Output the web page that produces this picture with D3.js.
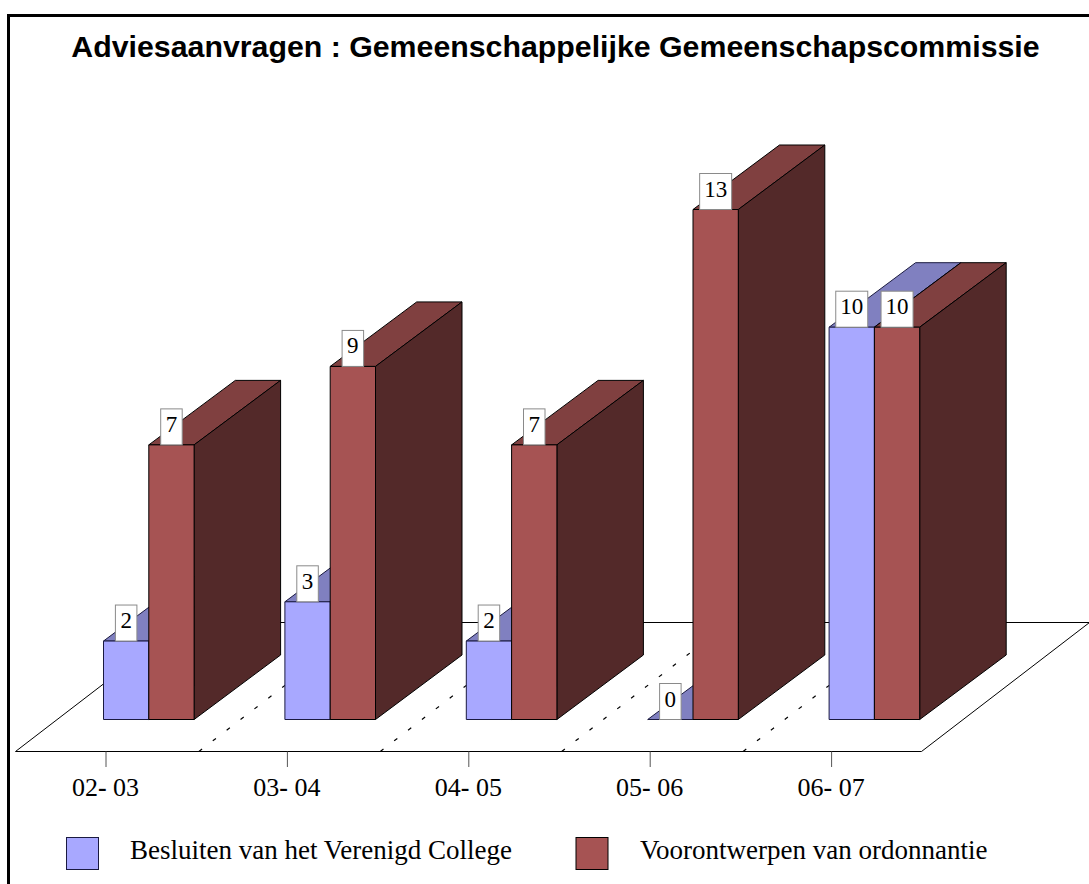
<!DOCTYPE html>
<html><head><meta charset="utf-8">
<script src="https://cdn.jsdelivr.net/npm/d3@7/dist/d3.min.js"></script>
<style>html,body{margin:0;padding:0;background:#fff}svg{display:block}</style>
</head><body><svg id="c" width="1089" height="884"></svg>
<script>
const titleText = "Adviesaanvragen : Gemeenschappelijke Gemeenschapscommissie";
const categories = ["02- 03","03- 04","04- 05","05- 06","06- 07"];
const seriesNames = ["Besluiten van het Verenigd College","Voorontwerpen van ordonnantie"];
const besluiten = [2,3,2,0,10];
const voorontwerpen = [7,9,7,13,10];
const frontColors = ["#a8a8ff","#a65353"];
const topColors = ["#8080c0","#804040"];
const sideColors = ["#535380","#532929"];

const svg = d3.select("#c");
const serif = "'Liberation Serif','Times New Roman',serif";
const sans = "'Liberation Sans',Arial,sans-serif";

// frame
svg.append("path").attr("d","M8.5,884V15.5H1089").attr("fill","none").attr("stroke","#000").attr("stroke-width",3);

// title
svg.append("text").attr("x",555.5).attr("y",56.5).attr("text-anchor","middle")
  .attr("font-family",sans).attr("font-weight","bold").attr("font-size",30.3).attr("fill","#000").text(titleText);

// scales
const x = d3.scaleBand().domain(categories).range([103.5,1010.5]);
const inner = d3.scaleBand().domain([0,1]).range([0,90.6]);
const y = d3.scaleLinear().domain([0,13]).range([719.5,209.5]);
const depthX = 86.5, depthY = -64.5;
const line = d3.line();

// floor
const g = svg.append("g");
const floorY = 751.5, backY = 622.5, floorL = 15.5, floorR = 921.5, shift = 168;
g.append("path").attr("d",line([[floorL,floorY],[floorL+shift,backY],[floorR+shift,backY],[floorR,floorY]])+"Z")
  .attr("fill","#fff").attr("stroke","#000").attr("stroke-width",1);

// category separators (dashed floor lines)
categories.forEach((c,i)=>{
  if(i===categories.length-1) return;
  const sx = x(c)+x.bandwidth()-86;
  g.append("path").attr("d",line([[sx,floorY],[sx+shift,backY]]))
   .attr("fill","none").attr("stroke","#000").attr("stroke-width",1.2).attr("stroke-dasharray","4 13.5");
});

// ticks + labels
categories.forEach(c=>{
  const tx = x(c)+2.5;
  g.append("line").attr("x1",tx).attr("x2",tx).attr("y1",floorY).attr("y2",767).attr("stroke","#555").attr("stroke-width",1);
  const parts = c.split("-");
  const t = g.append("text").attr("x",tx-.5).attr("y",796).attr("text-anchor","middle")
    .attr("font-family",serif).attr("font-size",26).attr("fill","#000");
  t.append("tspan").text(parts[0]);
  t.append("tspan").attr("font-weight","bold").text("-");
  t.append("tspan").text(parts[1]);
});

// bars
const series = [besluiten, voorontwerpen];
const labels = [];
categories.forEach((c,ci)=>{
  series.forEach((vals,si)=>{
    const v = vals[ci];
    const x0 = x(c)+inner(si), x1 = x0+inner.bandwidth(), yt = y(v), yb = y(0);
    const bar = svg.append("g").attr("stroke",si===0?"#1a1a40":"#000").attr("stroke-width",1).attr("stroke-linejoin","round");
    bar.append("path").attr("fill",topColors[si])
      .attr("d",line([[x0,yt],[x0+depthX,yt+depthY],[x1+depthX,yt+depthY],[x1,yt]])+"Z");
    bar.append("path").attr("fill",sideColors[si])
      .attr("d",line([[x1,yt],[x1+depthX,yt+depthY],[x1+depthX,yb+depthY],[x1,yb]])+"Z");
    if(v>0) bar.append("rect").attr("x",x0).attr("y",yt).attr("width",x1-x0).attr("height",yb-yt).attr("fill",frontColors[si]);
    labels.push({v,cx:x0+inner.bandwidth()/2,yt});
  });
});

// value labels
labels.forEach(l=>{
  const s = String(l.v), w = s.length>1 ? 32 : 21.5, h = 36;
  svg.append("rect").attr("x",l.cx-w/2).attr("y",l.yt-h).attr("width",w).attr("height",h)
    .attr("fill","#fff").attr("stroke","#8a8a8a").attr("stroke-width",1);
  svg.append("text").attr("x",l.cx).attr("y",l.yt-13).attr("text-anchor","middle")
    .attr("font-family",serif).attr("font-size",23).attr("fill","#000").text(s);
});

// legend
const legendX = [66,575.5], legendTextX = [130,640];
seriesNames.forEach((n,i)=>{
  svg.append("rect").attr("x",legendX[i]+.5).attr("y",837.5).attr("width",32).attr("height",32)
    .attr("fill",frontColors[i]).attr("stroke",i===0?"#1a1a40":"#000").attr("stroke-width",1);
  svg.append("text").attr("x",legendTextX[i]).attr("y",859).attr("font-family",serif).attr("font-size",27).attr("fill","#000").text(n);
});
</script></body></html>
